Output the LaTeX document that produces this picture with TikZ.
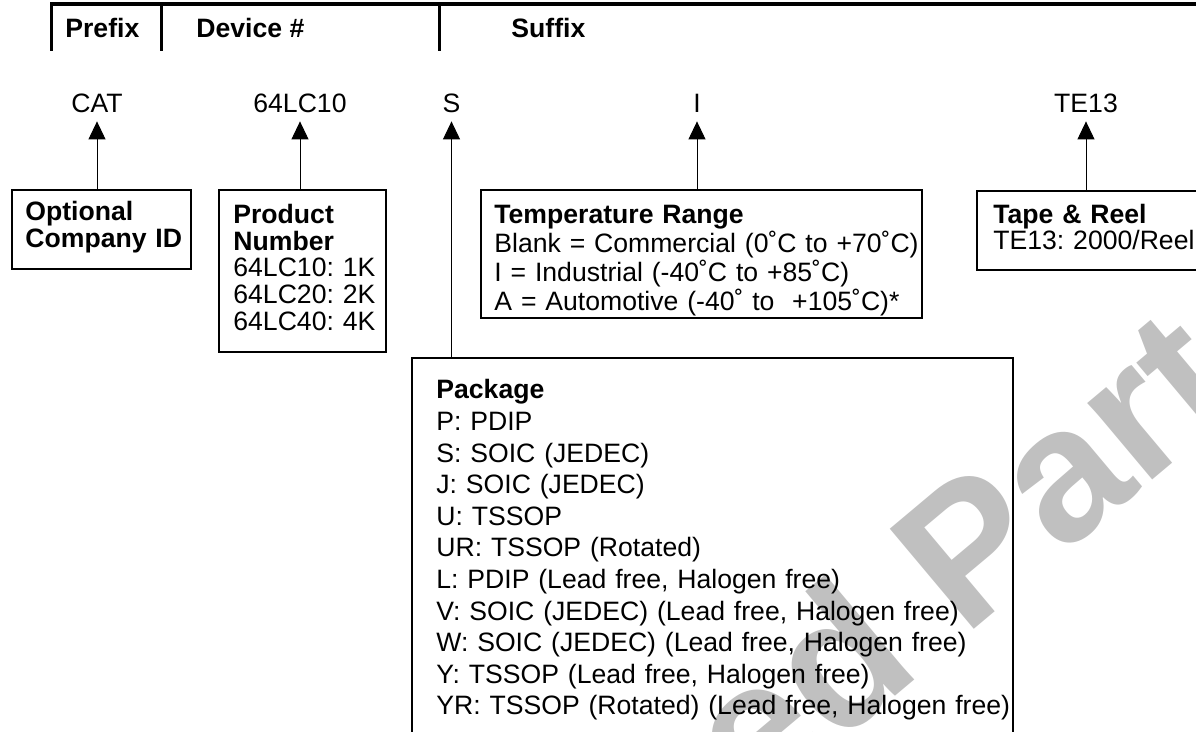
\documentclass[tikz,border=0pt]{standalone}
\usepackage{fontspec}
\setmainfont{Liberation Sans}
\usetikzlibrary{arrows.meta}
\definecolor{stampgray}{RGB}{192,192,192}
\frenchspacing

\tikzset{
  head/.style={font=\fontsize{13.3}{16}\selectfont\bfseries, inner sep=0pt, anchor=base west},
  code/.style={font=\fontsize{13.3}{16}\selectfont, inner xsep=0pt, inner ysep=4pt, text depth=0pt, anchor=base},
  frame/.style={draw, line width=1pt, inner sep=0pt, outer sep=0pt, anchor=north west},
  entry/.style={font=\fontsize{13.3}{13.35}\selectfont, align=left, inner sep=0pt, anchor=base west, text width=#1},
  entry/.default=200pt,
  pointer/.style={-{Triangle[width=8.5pt,length=9pt]}, line width=0.5pt},
}

\begin{document}
\begin{tikzpicture}[x=0.5pt, y=-0.5pt]
    \useasboundingbox (0,0) rectangle (1196,732);
    \clip (0,0) rectangle (1196,732);

    % watermark
    \node[text=stampgray, font=\fontsize{95}{95}\selectfont\bfseries, rotate=40, anchor=base east, inner sep=0pt] (stamp) at (1248,400) {ed Part};

    % header
    \draw[line width=1.75pt] (50,4) -- (1200,4);
    \foreach \x in {51,161,439}
        \draw[line width=1.5pt] (\x,4) -- (\x,51);
    \node[head] (prefix) at (65,38) {Prefix};
    \node[head] (device) at (196,38) {Device \#};
    \node[head] (suffix) at (511,38) {Suffix};

    % part number
    \node[code] (cat) at (97,113) {CAT};
    \node[code] (lc) at (300,113) {64LC10};
    \node[code] (spkg) at (451.5,113) {S};
    \node[code] (itemp) at (697,113) {I};
    \node[code] (te) at (1086,113) {TE13};

    % boxes
    \node[frame, minimum width=89.5pt, minimum height=39.5pt] (companybox) at (12,190) {};
    \node[entry=80pt] (companytxt) at (25,221) {{\bfseries Optional\\Company ID}};

    \node[frame, minimum width=83.5pt, minimum height=81pt] (productbox) at (219,190) {};
    \node[entry=80pt] (producttxt) at (233,223.5) {{\bfseries Product\\Number}\\64LC10: 1K\\64LC20: 2K\\64LC40: 4K};

    \node[frame, minimum width=220.5pt, minimum height=64pt] (tempbox) at (481,190) {};
    \node[entry=260pt] (temptxt) at (494,223.5) {{\bfseries Temperature Range}\\Blank = Commercial (0˚C to +70˚C)\\I = Industrial (-40˚C to +85˚C)\\A = Automotive (-40˚ to~ +105˚C)*};

    \node[frame, minimum width=125pt, minimum height=39.5pt] (reelbox) at (977,191) {};
    \node[entry=130pt, font=\fontsize{13.3}{13}\selectfont] (reeltxt) at (993,224) {{\bfseries Tape \& Reel}\\TE13: 2000/Reel};

    \node[frame, minimum width=300.5pt, minimum height=200pt] (packagebox) at (412,358) {};
    \node[entry=300pt, font=\fontsize{13.3}{15.8}\selectfont] (packagetxt) at (436,399) {{\bfseries Package}\\P: PDIP\\S: SOIC (JEDEC)\\J: SOIC (JEDEC)\\U: TSSOP\\UR: TSSOP (Rotated)\\L: PDIP (Lead free, Halogen free)\\V: SOIC (JEDEC) (Lead free, Halogen free)\\W: SOIC (JEDEC) (Lead free, Halogen free)\\Y: TSSOP (Lead free, Halogen free)\\YR: TSSOP (Rotated) (Lead free, Halogen free)};

    % arrows
    \draw[pointer] (cat |- companybox.north) -- (cat.south);
    \draw[pointer] (lc |- productbox.north) -- (lc.south);
    \draw[pointer] (spkg |- packagebox.north) -- (spkg.south);
    \draw[pointer] (itemp |- tempbox.north) -- (itemp.south);
    \draw[pointer] (te |- reelbox.north) -- (te.south);
\end{tikzpicture}
\end{document}
